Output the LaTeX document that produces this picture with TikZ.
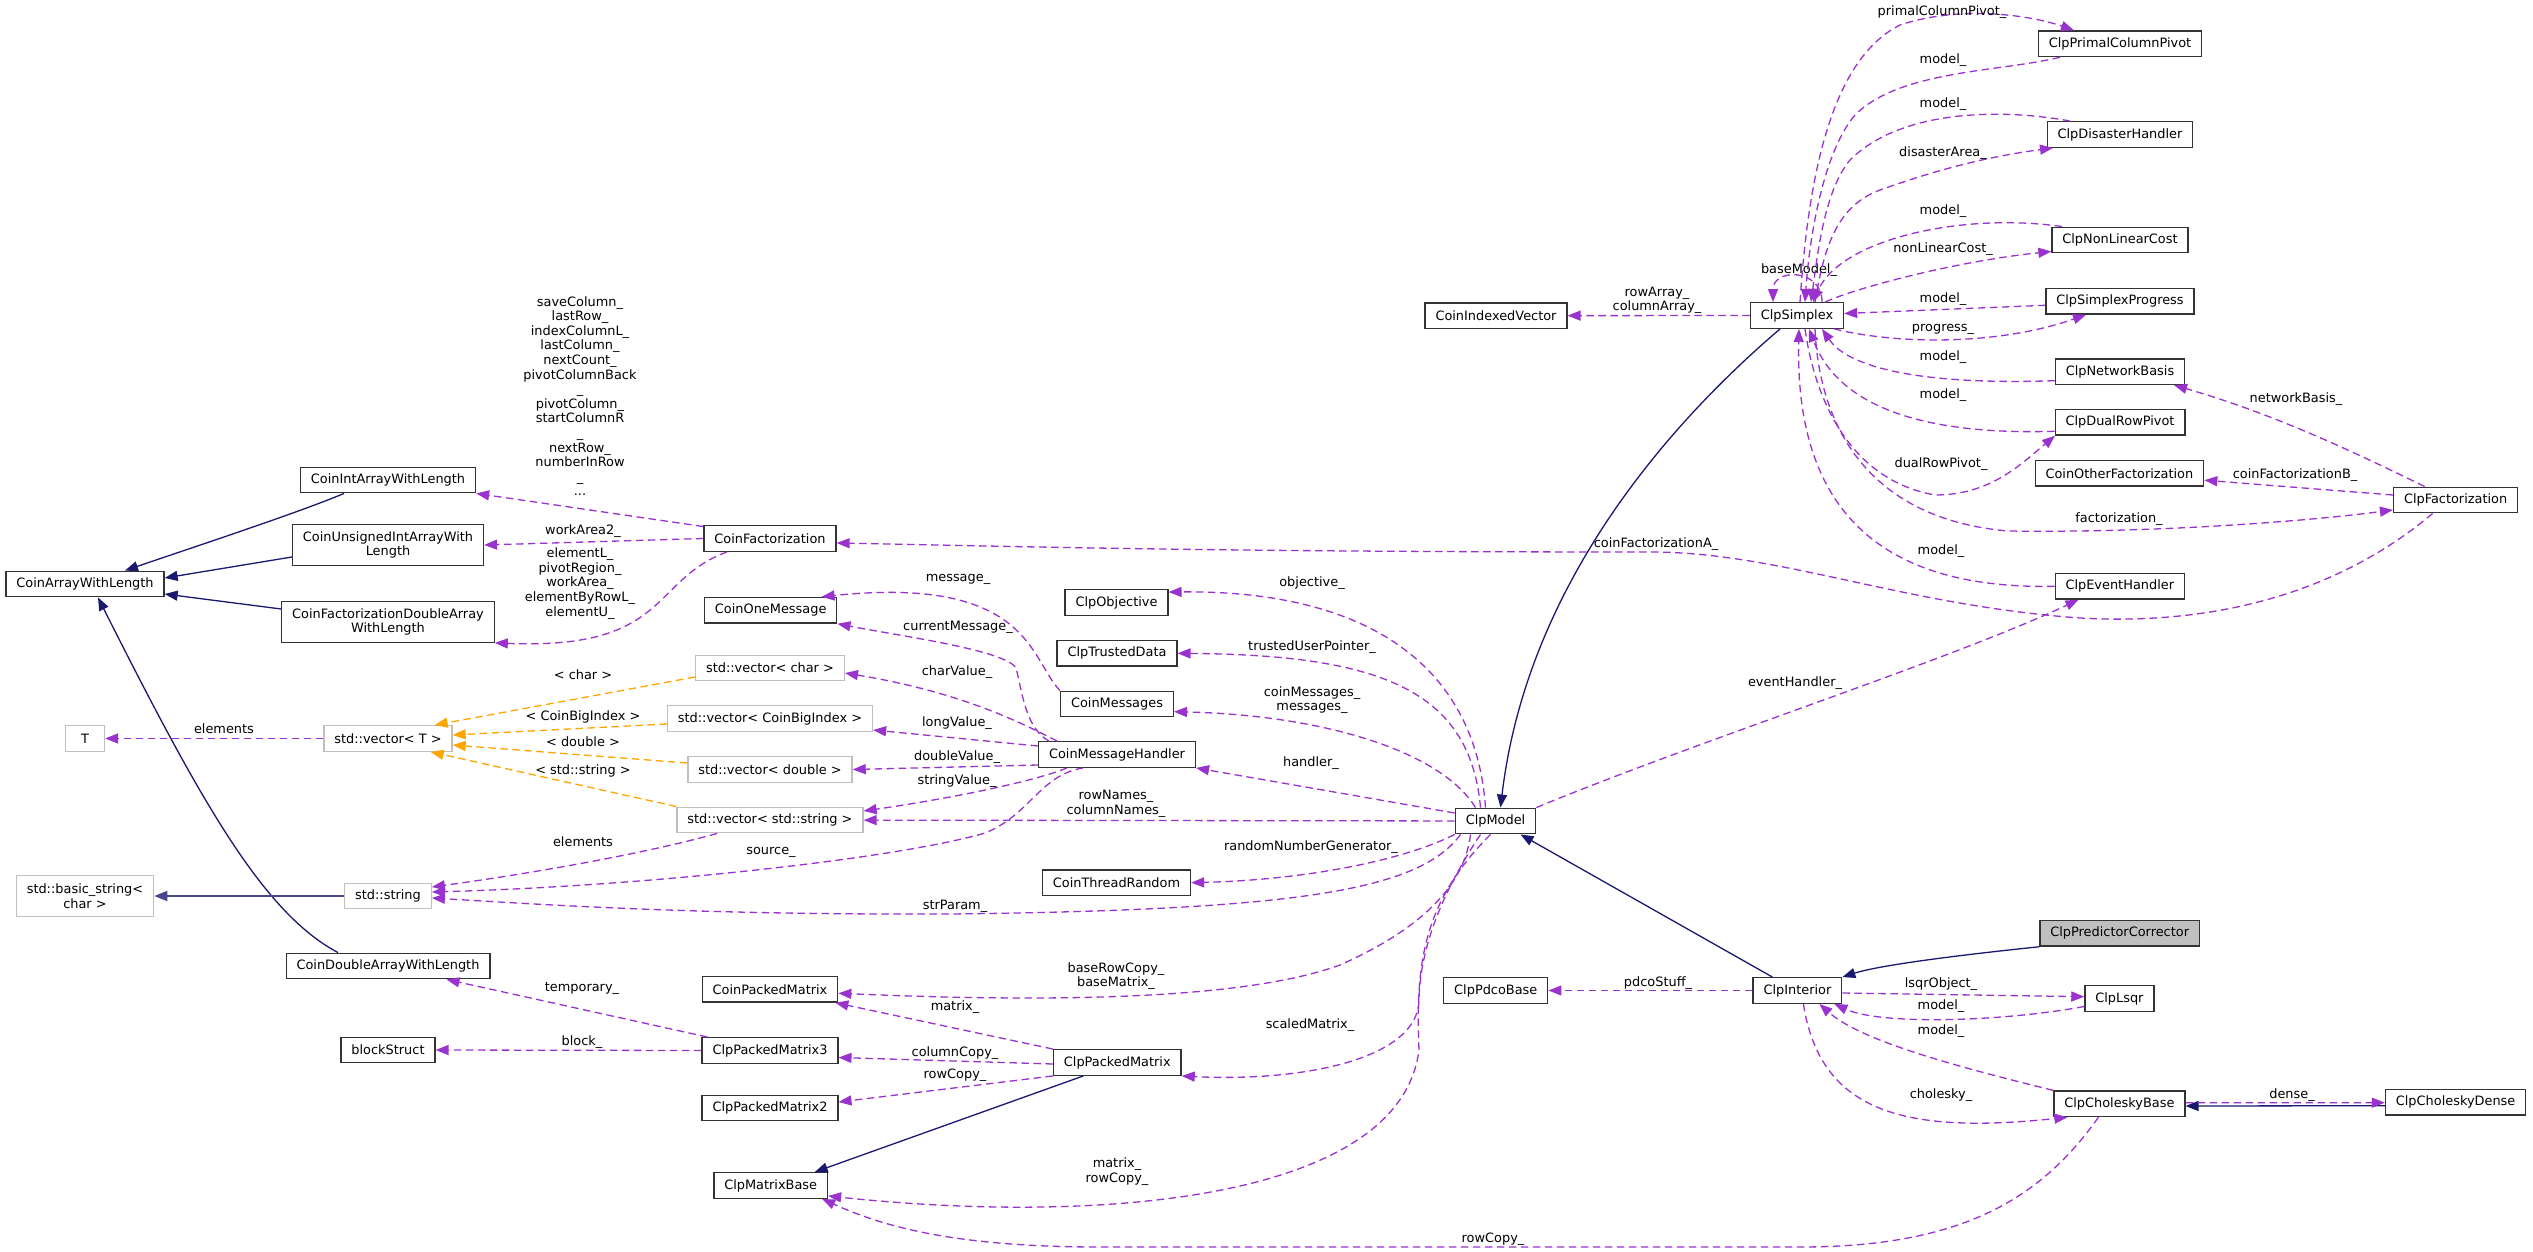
\documentclass[tikz,border=0pt]{standalone}
\usepackage{fontspec}
\setmainfont{DejaVu Sans}
\usetikzlibrary{arrows.meta}
\definecolor{edgepurple}{HTML}{9A32CD}
\definecolor{edgenavy}{HTML}{191970}
\definecolor{edgeorange}{HTML}{FFA500}
\definecolor{extgray}{HTML}{BFBFBF}

\begin{document}
\begin{tikzpicture}[
    x=1pt, y=-1pt,
    font=\fontsize{12.9}{14.6}\selectfont,
    cls/.style={rectangle, draw=black!80, line width=1.3pt, fill=white, minimum height=25.6pt, inner xsep=10.4pt, inner ysep=2pt, align=center},
    extcls/.style={cls, draw=extgray},
    curcls/.style={cls, fill=extgray},
    twoline/.style={minimum height=40.5pt},
    member/.style={-{Triangle[length=13pt,width=10pt]}, line width=1.3pt, edgepurple, dash pattern=on 7.5pt off 4.5pt},
    inherit/.style={-{Triangle[length=13pt,width=10pt]}, line width=1.3pt, edgenavy},
    tmplinst/.style={member, edgeorange},
    lbl/.style={inner sep=0.5pt, align=center, text=black}
]
\fill[white] (0,0) rectangle (2533,1252);
\useasboundingbox (0,0) rectangle (2533,1252);

% classes, one column per rank
\node[cls] (arr) at (85,584) {CoinArrayWithLength};
\node[extcls, minimum width=39pt] (T) at (85,738.5) {T};
\node[extcls, twoline] (bstr) at (85,896) {std::basic\_string<\\char >};

\node[cls] (intarr) at (388,480) {CoinIntArrayWithLength};
\node[cls, twoline] (uintarr) at (388,545) {CoinUnsignedIntArrayWith\\Length};
\node[cls, twoline] (fdarr) at (388,622) {CoinFactorizationDoubleArray\\WithLength};
\node[extcls] (vecT) at (388,738.5) {std::vector< T >};
\node[extcls] (str) at (388,896) {std::string};
\node[cls] (dblarr) at (388,966) {CoinDoubleArrayWithLength};
\node[cls] (block) at (388,1050) {blockStruct};

\node[cls] (cfact) at (770,538.5) {CoinFactorization};
\node[cls] (onemsg) at (770.7,610.3) {CoinOneMessage};
\node[extcls] (vecchar) at (770,668) {std::vector< char >};
\node[extcls] (vecbig) at (770,718.5) {std::vector< CoinBigIndex >};
\node[extcls] (vecdbl) at (770,769.5) {std::vector< double >};
\node[extcls] (vecstr) at (770,820) {std::vector< std::string >};
\node[cls] (cpm) at (770,989.3) {CoinPackedMatrix};
\node[cls] (pm3) at (770,1050.5) {ClpPackedMatrix3};
\node[cls] (pm2) at (770,1108) {ClpPackedMatrix2};
\node[cls] (mbase) at (770.7,1185.5) {ClpMatrixBase};

\node[cls] (objective) at (1116.5,602.5) {ClpObjective};
\node[cls] (trusted) at (1117,653.3) {ClpTrustedData};
\node[cls] (msgs) at (1117,704) {CoinMessages};
\node[cls] (handler) at (1117,754.5) {CoinMessageHandler};
\node[cls] (random) at (1116.5,882.7) {CoinThreadRandom};
\node[cls] (packed) at (1117.3,1062.5) {ClpPackedMatrix};

\node[cls] (idxvec) at (1496,315.7) {CoinIndexedVector};
\node[cls] (model) at (1495.5,821) {ClpModel};
\node[cls] (pdco) at (1495.8,990.5) {ClpPdcoBase};

\node[cls] (simplex) at (1797,315.5) {ClpSimplex};
\node[cls] (interior) at (1797.4,990.5) {ClpInterior};

\node[cls] (pcp) at (2120,43.8) {ClpPrimalColumnPivot};
\node[cls] (disaster) at (2120,134.5) {ClpDisasterHandler};
\node[cls] (nlc) at (2120,240) {ClpNonLinearCost};
\node[cls] (progress) at (2120,301.3) {ClpSimplexProgress};
\node[cls] (netbasis) at (2120,371.7) {ClpNetworkBasis};
\node[cls] (dualpivot) at (2120,422.3) {ClpDualRowPivot};
\node[cls] (otherfact) at (2119.4,473.2) {CoinOtherFactorization};
\node[cls] (event) at (2119.8,586.3) {ClpEventHandler};
\node[curcls] (predictor) at (2119.7,933.3) {ClpPredictorCorrector};
\node[cls] (lsqr) at (2119.4,998.5) {ClpLsqr};
\node[cls] (cholbase) at (2119.4,1103.8) {ClpCholeskyBase};

\node[cls] (clpfact) at (2455.6,500) {ClpFactorization};
\node[cls] (choldense) at (2455.6,1102.2) {ClpCholeskyDense};

% inheritance
\draw[inherit] ([xshift=-44pt]intarr.south) .. controls (300,512) and (200,545) .. ([xshift=40pt]arr.north);
\draw[inherit] ([yshift=-12pt]uintarr.west) -- ([yshift=6pt]arr.east);
\draw[inherit] ([yshift=13pt]fdarr.west) -- ([yshift=-10pt]arr.east);
\draw[inherit] ([xshift=-50pt]dblarr.north) .. controls (263,913) and (200,800) .. ([xshift=13pt]arr.south);
\draw[inherit, line width=1.8pt, edgenavy!80] (str) -- (bstr);
\draw[inherit] ([xshift=-34pt]packed.south) -- ([xshift=44pt]mbase.north);
\draw[inherit] ([xshift=-17pt]simplex.south) .. controls (1650,440) and (1525,600) .. ([xshift=5pt]model.north);
\draw[inherit] ([xshift=-25pt]interior.north) -- ([xshift=25pt]model.south);
\draw[inherit] (predictor.south west) .. controls (1960,955) and (1880,965) .. (interior.north east);
\draw[inherit] ([yshift=-3.5pt]choldense.west) -- ([yshift=-2.2pt]cholbase.east);

% template instances
\draw[tmplinst] ([yshift=-9pt]vecchar.west) -- ([xshift=-18pt]vecT.north east) node[lbl] at (583,675) {< char >};
\draw[tmplinst] ([yshift=-5.5pt]vecbig.west) -- ([yshift=3.5pt]vecT.east) node[lbl] at (583,717) {< CoinBigIndex >};
\draw[tmplinst] ([yshift=6.5pt]vecdbl.west) -- ([yshift=-6.5pt]vecT.east) node[lbl] at (583,742) {< double >};
\draw[tmplinst] (vecstr.north west) -- ([xshift=-22pt]vecT.south east) node[lbl] at (583,771) {< std::string >};

% members, left part
\draw[member] ([yshift=-1.5pt]cfact.north west) -- (intarr.south east)
    node[lbl] at (580,396) {saveColumn\_\\lastRow\_\\indexColumnL\_\\lastColumn\_\\nextCount\_\\pivotColumnBack\\\_\\pivotColumn\_\\startColumnR\\\_\\nextRow\_\\numberInRow\\\_\\...};
\draw[member] (cfact.west) -- (uintarr.east) node[lbl] at (583,531) {workArea2\_};
\draw[member] ([xshift=-43pt]cfact.south) .. controls (650,580) and (670,650) .. (fdarr.south east)
    node[lbl] at (580,583.5) {elementL\_\\pivotRegion\_\\workArea\_\\elementByRowL\_\\elementU\_};
\draw[member] (vecT) -- (T) node[lbl] at (224,729) {elements};
\draw[member] ([xshift=-53pt]vecstr.south) .. controls (640,855) and (520,875) .. ([yshift=9pt]str.east) node[lbl] at (583,842) {elements};
\draw[member] ([xshift=6pt]pm3.north west) -- ([xshift=-44pt]dblarr.south east) node[lbl] at (582,988) {temporary\_};
\draw[member] (pm3.west) -- (block.east) node[lbl] at (582,1042) {block\_};

% members of the message classes
\draw[member] (msgs.north west) .. controls (1030,660) and (1030,575) .. ([xshift=-16pt]onemsg.north east) node[lbl] at (958,579) {message\_};
\draw[member] ([xshift=-68pt]handler.north) .. controls (1025,728) and (1022,690) .. (1016,668) .. controls (1005,650) and (900,636) .. (onemsg.south east) node[lbl] at (958,627) {currentMessage\_};
\draw[member] ([xshift=-60pt]handler.north) .. controls (1020,722) and (960,692) .. ([yshift=-5pt]vecchar.east) node[lbl] at (957,672) {charValue\_};
\draw[member] ([yshift=8.5pt]handler.west) -- ([yshift=-11.5pt]vecbig.east) node[lbl] at (957,723) {longValue\_};
\draw[member] ([yshift=-10.5pt]handler.west) -- (vecdbl.east) node[lbl] at (957,757) {doubleValue\_};
\draw[member] ([xshift=-50pt]handler.south) .. controls (1030,783) and (940,800) .. ([yshift=9pt]vecstr.east) node[lbl] at (957,781) {stringValue\_};
\draw[member] ([xshift=-34pt]handler.south) .. controls (1040,775) and (1030,815) .. (985,833) .. controls (900,858) and (650,886) .. ([yshift=4pt]str.east) node[lbl] at (771,852) {source\_};

% members of ClpModel
\draw[member] ([xshift=-10pt]model.north) .. controls (1475,660) and (1360,590) .. ([yshift=-3pt]objective.north east) node[lbl] at (1312,583) {objective\_};
\draw[member] ([xshift=-15pt]model.north) .. controls (1470,690) and (1380,655) .. (trusted.east) node[lbl] at (1312,647) {trustedUserPointer\_};
\draw[member] ([xshift=-20pt]model.north) .. controls (1440,750) and (1320,715) .. ([yshift=-7.7pt]msgs.east) node[lbl] at (1312,700) {coinMessages\_\\messages\_};
\draw[member] ([yshift=8pt]model.west) -- (handler.south east) node[lbl] at (1311,763) {handler\_};
\draw[member] (model) -- (vecstr) node[lbl] at (1116,804) {rowNames\_\\columnNames\_};
\draw[member] (model.south west) .. controls (1400,862) and (1300,880) .. (random.east) node[lbl] at (1311,847) {randomNumberGenerator\_};
\draw[member] ([xshift=-35pt]model.south) .. controls (1420,890) and (1300,910) .. (950,914) .. controls (700,915) and (550,905) .. ([yshift=-2pt]str.east) node[lbl] at (955,906) {strParam\_};
\draw[member] ([xshift=-25pt]model.south) .. controls (1465,880) and (1430,925) .. (1340,965) .. controls (1230,1005) and (1000,1000) .. ([yshift=-4pt]cpm.east) node[lbl] at (1116,976) {baseRowCopy\_\\baseMatrix\_};
\draw[member] ([xshift=-15pt]model.south) .. controls (1450,880) and (1420,940) .. (1419,1000) .. controls (1418,1060) and (1300,1082) .. (packed.south east) node[lbl] at (1310,1025) {scaledMatrix\_};
\draw[member] ([xshift=-5pt]model.south) .. controls (1425,900) and (1415,960) .. (1419,1050) .. controls (1400,1200) and (1100,1225) .. ([yshift=3pt]mbase.south east) node[lbl] at (1117,1171.5) {matrix\_\\rowCopy\_};
\draw[member] (model.north east) .. controls (1700,740) and (1950,660) .. ([xshift=24pt]event.south west) node[lbl] at (1795,683) {eventHandler\_};

% members of ClpPackedMatrix
\draw[member] (packed.north west) -- ([xshift=-3pt]cpm.south east) node[lbl] at (955,1007) {matrix\_};
\draw[member] ([yshift=-1.5pt]packed.west) -- ([yshift=-7pt]pm3.east) node[lbl] at (955,1053) {columnCopy\_};
\draw[member] (packed.south west) -- ([yshift=6pt]pm2.east) node[lbl] at (955,1075) {rowCopy\_};

% members around ClpSimplex
\draw[member] (simplex) -- (idxvec) node[lbl] at (1657,300.5) {rowArray\_\\columnArray\_};
\draw[member] ([xshift=25pt]simplex.north) .. controls (1822,268) and (1773,268) .. ([xshift=-24pt]simplex.north) node[lbl] at (1799,270) {baseModel\_};
\draw[member] ([xshift=3pt]simplex.north) .. controls (1808,180) and (1830,60) .. (1900,25) .. controls (1960,5) and (2030,15) .. ([xshift=-46pt]pcp.north) node[lbl] at (1942,12) {primalColumnPivot\_};
\draw[member] ([xshift=-60pt]pcp.south) .. controls (2000,72) and (1900,70) .. (1855,115) .. controls (1825,150) and (1810,230) .. ([xshift=8pt]simplex.north) node[lbl] at (1943,60) {model\_};
\draw[member] ([xshift=-50pt]disaster.north) .. controls (2000,108) and (1900,110) .. (1850,160) .. controls (1825,190) and (1818,250) .. ([xshift=14pt]simplex.north) node[lbl] at (1943,104) {model\_};
\draw[member] ([xshift=18pt]simplex.north) .. controls (1825,240) and (1840,205) .. (1880,190) .. controls (1950,165) and (2000,155) .. ([xshift=-67pt]disaster.south) node[lbl] at (1943,153) {disasterArea\_};
\draw[member] ([xshift=-58pt]nlc.north) .. controls (1960,212) and (1840,240) .. ([xshift=16pt]simplex.north) node[lbl] at (1943,211) {model\_};
\draw[member] ([xshift=-19pt]simplex.north east) .. controls (1850,290) and (1950,262) .. ([yshift=2pt]nlc.south west) node[lbl] at (1943,249) {nonLinearCost\_};
\draw[member] ([yshift=-4pt]progress.west) -- ([yshift=2pt]simplex.east) node[lbl] at (1943,299) {model\_};
\draw[member] ([xshift=-10pt]simplex.south east) .. controls (1900,345) and (2000,345) .. ([xshift=-34pt]progress.south) node[lbl] at (1943,329) {progress\_};
\draw[member] ([yshift=-9pt]netbasis.west) .. controls (1930,385) and (1850,370) .. ([xshift=25pt]simplex.south) node[lbl] at (1943,357) {model\_};
\draw[member] ([yshift=-9pt]dualpivot.west) .. controls (1930,435) and (1840,410) .. ([xshift=12pt]simplex.south) node[lbl] at (1943,395) {model\_};
\draw[member] ([xshift=8pt]simplex.south) .. controls (1815,400) and (1850,480) .. (1935,495) .. controls (1990,495) and (2020,465) .. ([xshift=-65pt]dualpivot.south) node[lbl] at (1941,464) {dualRowPivot\_};
\draw[member] ([xshift=18pt]simplex.south) .. controls (1820,440) and (1880,520) .. (2008,531) .. controls (2150,533) and (2300,522) .. ([yshift=-10pt]clpfact.west) node[lbl] at (2119,519) {factorization\_};
\draw[member] (event.west) .. controls (1870,590) and (1795,500) .. ([xshift=2pt]simplex.south) node[lbl] at (1941,551) {model\_};

% members of ClpFactorization
\draw[member] ([xshift=-31pt]clpfact.north) .. controls (2330,440) and (2260,410) .. ([xshift=54pt]netbasis.south) node[lbl] at (2296,399) {networkBasis\_};
\draw[member] ([yshift=5pt]clpfact.west) -- ([yshift=-7pt]otherfact.east) node[lbl] at (2295,475) {coinFactorizationB\_};
\draw[member] ([xshift=-23pt]clpfact.south) .. controls (2330,600) and (2200,625) .. (2080,618) .. controls (1900,605) and (1780,552) .. (1650,552) .. controls (1200,552) and (1000,546) .. ([yshift=-4.5pt]cfact.east) node[lbl] at (1656,544) {coinFactorizationA\_};

% members around ClpInterior
\draw[member] (interior) -- (pdco) node[lbl] at (1658,983) {pdcoStuff\_};
\draw[member] ([yshift=-2.5pt]interior.east) -- ([yshift=1.8pt]lsqr.west) node[lbl] at (1941,984) {lsqrObject\_};
\draw[member] ([yshift=-8pt]lsqr.west) .. controls (2000,1022) and (1880,1025) .. ([xshift=37pt]interior.south) node[lbl] at (1941,1006) {model\_};
\draw[member] (cholbase.north west) .. controls (1950,1065) and (1860,1040) .. ([xshift=22pt]interior.south) node[lbl] at (1941,1031) {model\_};
\draw[member] ([xshift=6pt]interior.south) .. controls (1820,1110) and (1900,1135) .. ([xshift=-52pt]cholbase.south) node[lbl] at (1941,1095) {cholesky\_};
\draw[member] ([yshift=1pt]cholbase.east) -- ([yshift=-0.5pt]choldense.west) node[lbl] at (2292,1095) {dense\_};
\draw[member] ([xshift=-21pt]cholbase.south) .. controls (2040,1200) and (1960,1247) .. (1800,1247) -- (1100,1247) .. controls (950,1247) and (880,1225) .. ([xshift=-6pt]mbase.south east) node[lbl] at (1493,1239) {rowCopy\_};

\end{tikzpicture}
\end{document}
